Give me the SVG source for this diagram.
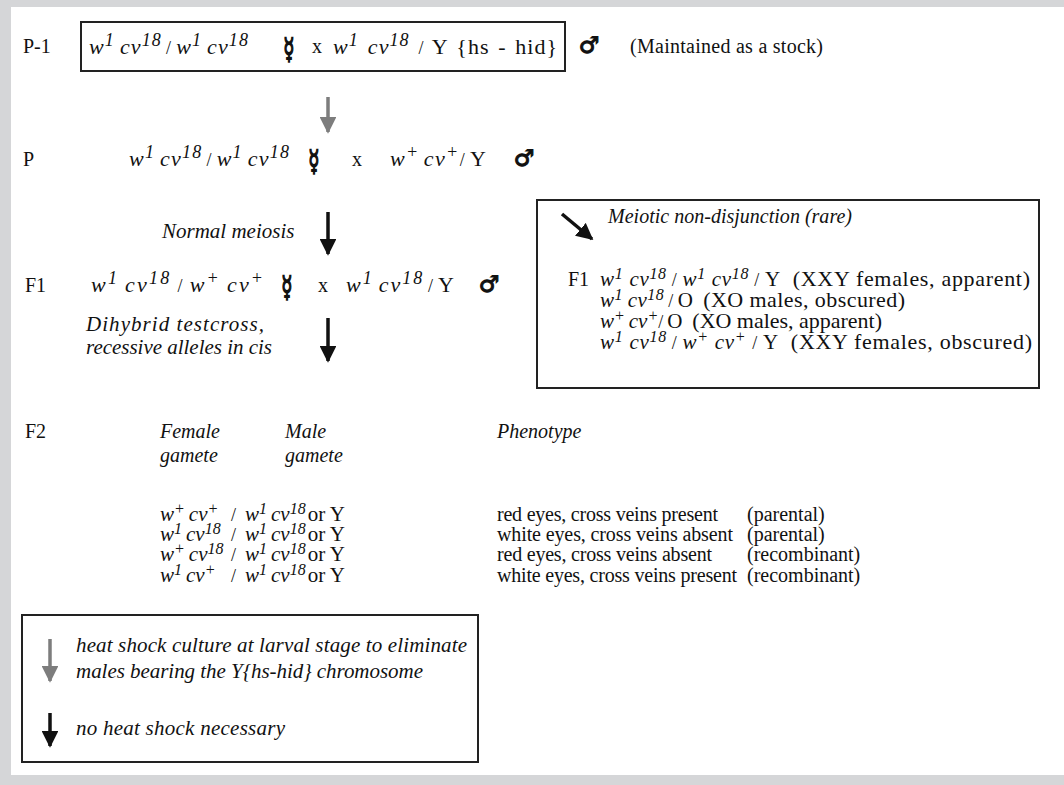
<svg xmlns="http://www.w3.org/2000/svg" width="1064" height="785" viewBox="0 0 1064 785">
<style>
.t{font-family:"Liberation Serif","Times New Roman",serif;font-size:20px;fill:#111}
.g{font-size:22px}
.h{font-size:21px}
.n{font-size:21px}
.pa{font-size:22px}
.i{font-style:italic}
.sp{font-style:italic;font-size:18px}
.ss{font-style:italic;font-size:16px}
.sl{font-size:18px}
.fem{font-family:"DejaVu Sans",sans-serif;font-weight:bold;font-size:29px;fill:#111;stroke:#111;stroke-width:1.6}
.mal{font-family:"DejaVu Sans",sans-serif;font-weight:bold;font-size:23px;fill:#111;stroke:#111;stroke-width:1.1}
.box{fill:none;stroke:#222;stroke-width:2}
.ab{stroke:#111;stroke-width:3.5;fill:none}
.ag{stroke:#7d7d7d;stroke-width:3.5;fill:none}
</style>
<defs>
<marker id="hb" viewBox="0 0 10 10" refX="9" refY="5" markerWidth="4.8" markerHeight="4.8" markerUnits="strokeWidth" orient="auto"><path d="M0,0 L10,5 L0,10 z" fill="#111"/></marker>
<marker id="hg" viewBox="0 0 10 10" refX="9" refY="5" markerWidth="4.8" markerHeight="4.8" markerUnits="strokeWidth" orient="auto"><path d="M0,0 L10,5 L0,10 z" fill="#7d7d7d"/></marker>
</defs>
<rect x="0" y="0" width="1064" height="785" fill="#d5d6d8"/>
<rect x="11" y="7" width="1053" height="768" fill="#ffffff"/>

<g id="row-p1">
<rect class="box" x="81" y="22" width="484" height="49"/>
<text class="t" x="23" y="53">P-1</text>
<text class="t g" x="89" y="54" textLength="159" lengthAdjust="spacing"><tspan class="i">w</tspan><tspan class="sp" dy="-8">1</tspan><tspan class="i" dy="8" dx="5">cv</tspan><tspan class="sp" dy="-8">18</tspan><tspan class="sl" dy="8" dx="4">/</tspan><tspan class="i" dx="4">w</tspan><tspan class="sp" dy="-8">1</tspan><tspan class="i" dy="8" dx="5">cv</tspan><tspan class="sp" dy="-8">18</tspan></text>
<text class="fem" transform="translate(289,59) scale(0.62,1)" text-anchor="middle">☿</text>
<text class="t" x="312" y="53">x</text>
<text class="t g" x="333" y="54" textLength="224" lengthAdjust="spacing"><tspan class="i">w</tspan><tspan class="sp" dy="-8">1</tspan><tspan class="i" dy="8" dx="9">cv</tspan><tspan class="sp" dy="-8">18</tspan><tspan class="sl" dy="8" dx="9">/</tspan><tspan dx="7" word-spacing="2">Y {hs - hid}</tspan></text>
<text class="mal" x="589" y="53" text-anchor="middle">♂</text>
<text class="t" x="630" y="53" textLength="193" lengthAdjust="spacing">(Maintained as a stock)</text>
</g>

<g id="row-p">
<text class="t" x="23" y="166">P</text>
<text class="t g" x="129" y="166" textLength="160" lengthAdjust="spacing"><tspan class="i">w</tspan><tspan class="sp" dy="-8">1</tspan><tspan class="i" dy="8" dx="5">cv</tspan><tspan class="sp" dy="-8">18</tspan><tspan class="sl" dy="8" dx="4">/</tspan><tspan class="i" dx="4">w</tspan><tspan class="sp" dy="-8">1</tspan><tspan class="i" dy="8" dx="5">cv</tspan><tspan class="sp" dy="-8">18</tspan></text>
<text class="fem" transform="translate(314,171) scale(0.62,1)" text-anchor="middle">☿</text>
<text class="t" x="352" y="166">x</text>
<text class="t g" x="390" y="166" textLength="96" lengthAdjust="spacing"><tspan class="i">w</tspan><tspan class="sp" dy="-8">+</tspan><tspan class="i" dy="8" dx="4">cv</tspan><tspan class="sp" dy="-8">+</tspan><tspan class="sl" dy="8">/</tspan><tspan dx="4">Y</tspan></text>
<text class="mal" x="524" y="166" text-anchor="middle">♂</text>
</g>

<g id="label-normal-meiosis">
<text class="t n i" x="162" y="238">Normal meiosis</text>
</g>

<g id="row-f1">
<text class="t" x="25" y="292">F1</text>
<text class="t g" x="91" y="292" textLength="172" lengthAdjust="spacing"><tspan class="i">w</tspan><tspan class="sp" dy="-8">1</tspan><tspan class="i" dy="8" dx="6">cv</tspan><tspan class="sp" dy="-8">18</tspan><tspan class="sl" dy="8" dx="6">/</tspan><tspan class="i" dx="5">w</tspan><tspan class="sp" dy="-8">+</tspan><tspan class="i" dy="8" dx="6">cv</tspan><tspan class="sp" dy="-8">+</tspan></text>
<text class="fem" transform="translate(287,297) scale(0.62,1)" text-anchor="middle">☿</text>
<text class="t" x="318" y="292">x</text>
<text class="t g" x="346" y="292" textLength="108" lengthAdjust="spacing"><tspan class="i">w</tspan><tspan class="sp" dy="-8">1</tspan><tspan class="i" dy="8" dx="5">cv</tspan><tspan class="sp" dy="-8">18</tspan><tspan class="sl" dy="8" dx="4">/</tspan><tspan dx="3">Y</tspan></text>
<text class="mal" x="489" y="292" text-anchor="middle">♂</text>
</g>

<g id="label-testcross">
<text class="t n i" x="86" y="331" textLength="178" lengthAdjust="spacing">Dihybrid testcross,</text>
<text class="t n i" x="86" y="354" textLength="186" lengthAdjust="spacing">recessive alleles in cis</text>
</g>

<g id="box-nondisjunction">
<rect class="box" x="537" y="200" width="502" height="188"/>
<text class="t i" x="608" y="223" textLength="244" lengthAdjust="spacing">Meiotic non-disjunction (rare)</text>
<text class="t" x="568" y="286">F1</text>
<text class="t h" x="600" y="286" textLength="430" lengthAdjust="spacing"><tspan class="i">w</tspan><tspan class="ss" dy="-7">1</tspan><tspan class="i" dy="7" dx="6">cv</tspan><tspan class="ss" dy="-7">18</tspan><tspan class="sl" dy="7" dx="5">/</tspan><tspan class="i" dx="5">w</tspan><tspan class="ss" dy="-7">1</tspan><tspan class="i" dy="7" dx="6">cv</tspan><tspan class="ss" dy="-7">18</tspan><tspan class="sl" dy="7" dx="5">/</tspan><tspan dx="5">Y</tspan><tspan class="pa" dx="12">(XXY females, apparent)</tspan></text>
<text class="t h" x="600" y="307" textLength="305" lengthAdjust="spacing"><tspan class="i">w</tspan><tspan class="ss" dy="-7">1</tspan><tspan class="i" dy="7" dx="5">cv</tspan><tspan class="ss" dy="-7">18</tspan><tspan class="sl" dy="7" dx="4">/</tspan><tspan dx="4">O</tspan><tspan class="pa" dx="10">(XO males, obscured)</tspan></text>
<text class="t h" x="600" y="328" textLength="282" lengthAdjust="spacing"><tspan class="i">w</tspan><tspan class="ss" dy="-7">+</tspan><tspan class="i" dy="7" dx="4">cv</tspan><tspan class="ss" dy="-7">+</tspan><tspan class="sl" dy="7">/</tspan><tspan dx="4">O</tspan><tspan class="pa" dx="10">(XO males, apparent)</tspan></text>
<text class="t h" x="600" y="349" textLength="432" lengthAdjust="spacing"><tspan class="i">w</tspan><tspan class="ss" dy="-7">1</tspan><tspan class="i" dy="7" dx="6">cv</tspan><tspan class="ss" dy="-7">18</tspan><tspan class="sl" dy="7" dx="5">/</tspan><tspan class="i" dx="5">w</tspan><tspan class="ss" dy="-7">+</tspan><tspan class="i" dy="7" dx="6">cv</tspan><tspan class="ss" dy="-7">+</tspan><tspan class="sl" dy="7" dx="6">/</tspan><tspan dx="5">Y</tspan><tspan class="pa" dx="12">(XXY females, obscured)</tspan></text>
</g>

<g id="table-f2">
<text class="t" x="25" y="438">F2</text>
<text class="t i" x="160" y="438">Female</text>
<text class="t i" x="160" y="462">gamete</text>
<text class="t i" x="285" y="438">Male</text>
<text class="t i" x="285" y="462">gamete</text>
<text class="t i" x="497" y="438">Phenotype</text>

<text class="t h" x="160" y="521"><tspan class="i">w</tspan><tspan class="ss" dy="-7">+</tspan><tspan class="i" dy="7" dx="4">cv</tspan><tspan class="ss" dy="-7">+</tspan></text>
<text class="t h" x="160" y="541"><tspan class="i">w</tspan><tspan class="ss" dy="-7">1</tspan><tspan class="i" dy="7" dx="4">cv</tspan><tspan class="ss" dy="-7">18</tspan></text>
<text class="t h" x="160" y="561"><tspan class="i">w</tspan><tspan class="ss" dy="-7">+</tspan><tspan class="i" dy="7" dx="4">cv</tspan><tspan class="ss" dy="-7">18</tspan></text>
<text class="t h" x="160" y="582"><tspan class="i">w</tspan><tspan class="ss" dy="-7">1</tspan><tspan class="i" dy="7" dx="4">cv</tspan><tspan class="ss" dy="-7">+</tspan></text>

<text class="t h" x="231" y="521"><tspan class="sl">/</tspan><tspan class="i" dx="9">w</tspan><tspan class="ss" dy="-7">1</tspan><tspan class="i" dy="7" dx="4">cv</tspan><tspan class="ss" dy="-7">18</tspan><tspan dy="7" dx="2">or Y</tspan></text>
<text class="t h" x="231" y="541"><tspan class="sl">/</tspan><tspan class="i" dx="9">w</tspan><tspan class="ss" dy="-7">1</tspan><tspan class="i" dy="7" dx="4">cv</tspan><tspan class="ss" dy="-7">18</tspan><tspan dy="7" dx="2">or Y</tspan></text>
<text class="t h" x="231" y="561"><tspan class="sl">/</tspan><tspan class="i" dx="9">w</tspan><tspan class="ss" dy="-7">1</tspan><tspan class="i" dy="7" dx="4">cv</tspan><tspan class="ss" dy="-7">18</tspan><tspan dy="7" dx="2">or Y</tspan></text>
<text class="t h" x="231" y="582"><tspan class="sl">/</tspan><tspan class="i" dx="9">w</tspan><tspan class="ss" dy="-7">1</tspan><tspan class="i" dy="7" dx="4">cv</tspan><tspan class="ss" dy="-7">18</tspan><tspan dy="7" dx="2">or Y</tspan></text>

<text class="t" x="497" y="521" textLength="221" lengthAdjust="spacing">red eyes, cross veins present</text>
<text class="t" x="497" y="541" textLength="236" lengthAdjust="spacing">white eyes, cross veins absent</text>
<text class="t" x="497" y="561" textLength="215" lengthAdjust="spacing">red eyes, cross veins absent</text>
<text class="t" x="497" y="582" textLength="240" lengthAdjust="spacing">white eyes, cross veins present</text>
<text class="t" x="747" y="521">(parental)</text>
<text class="t" x="747" y="541">(parental)</text>
<text class="t" x="747" y="561">(recombinant)</text>
<text class="t" x="747" y="582">(recombinant)</text>
</g>

<g id="legend">
<rect class="box" x="22" y="615" width="456" height="147"/>
<line class="ag" x1="50" y1="639" x2="50" y2="681" marker-end="url(#hg)"/>
<text class="t n i" x="76" y="652" textLength="391" lengthAdjust="spacing">heat shock culture at larval stage to eliminate</text>
<text class="t n i" x="76" y="678" textLength="347" lengthAdjust="spacing">males bearing the Y{hs-hid} chromosome</text>
<line class="ab" x1="50" y1="713" x2="50" y2="746" marker-end="url(#hb)"/>
<text class="t n i" x="76" y="735" textLength="209" lengthAdjust="spacing">no heat shock necessary</text>
</g>

<g id="connectors">
<line class="ag" x1="328" y1="97" x2="328" y2="132" marker-end="url(#hg)"/>
<line class="ab" x1="328" y1="212" x2="328" y2="254" marker-end="url(#hb)"/>
<line class="ab" x1="328" y1="318" x2="328" y2="361" marker-end="url(#hb)"/>
<line class="ab" x1="562" y1="214" x2="592" y2="239" marker-end="url(#hb)"/>
</g>
</svg>
